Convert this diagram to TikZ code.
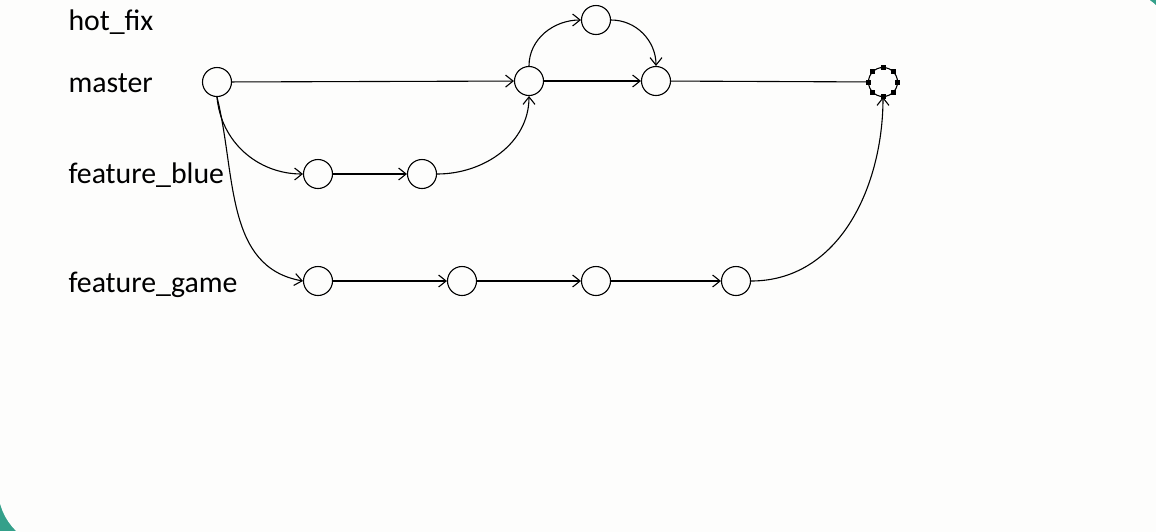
\documentclass[tikz,border=0pt]{standalone}
\usepackage{fontspec}
\setmainfont{Carlito}
\usetikzlibrary{arrows.meta,calc}
\definecolor{slideteal}{RGB}{52,160,138}
\definecolor{slidebg}{RGB}{253,253,252}
\tikzset{
    commit/.style = {draw, circle, minimum size=29pt, inner sep=0pt},
    branch/.style = {anchor=base west, inner sep=0pt,
        font=\fontsize{29.8}{32}\selectfont},
    handle/.style = {fill=black, minimum size=5pt, inner sep=0pt}
}

\begin{document}
\begin{tikzpicture}[x=1pt,y=-1pt,line width=1.1pt,
        >={Straight Barb[length=7.5pt,width=12pt]}]
    % slide frame
    \useasboundingbox (0,0) rectangle (1156,531);
    \clip (0,0) rectangle (1156,531);
    \fill[slideteal] (0,0) rectangle (1156,531);
    \fill[slidebg] (-2,-11) [rounded corners=60pt] -- (1175,-11)
        [sharp corners] -- (1175,548) [rounded corners=60pt] -- (-2,548)
        [sharp corners] -- cycle;

    % branch names
    \node [branch] (lhot)   at (68,30)  {hot\_fix};
    \node [branch] (lmast)  at (68,92)  {master};
    \node [branch] (lblue)  at (68,183) {feature\_blue};
    \node [branch] (lgame)  at (68,292) {feature\_game};

    % commits
    \node [commit] (m0) at (217,82) {};
    \node [commit] (m1) at (529,81) {};
    \node [commit] (h1) at (596,20) {};
    \node [commit] (m2) at (656,81) {};
    \node [commit] (m3) at (883,82) {};
    \node [commit] (b1) at (318,174) {};
    \node [commit] (b2) at (422,174) {};
    \node [commit] (g1) at (318,281) {};
    \node [commit] (g2) at (462,281) {};
    \node [commit] (g3) at (596,281) {};
    \node [commit] (g4) at (736,281) {};

    % selection handles on the last commit
    \foreach \a in {0,45,...,315}
        \node [handle] at ($(m3)+(\a:14.5)$) {};

    % master
    \draw[->] (m0) -- (m1);
    \draw[->] (m1) -- (m2);
    \draw (m2) -- (m3);
    % hot_fix
    \draw[->] (m1.north) to[out=90,in=180] (h1.west);
    \draw[->] (h1.east) to[out=0,in=90] (m2.north);
    % feature_blue
    \draw[->] (m0.south) to[out=-85,in=180] (b1.west);
    \draw[->] (b1) -- (b2);
    \draw[->] (b2.east) to[out=0,in=-90] (m1.south);
    % feature_game
    \draw[->] (m0.south) to[out=-76,in=170] (g1.west);
    \draw[->] (g1) -- (g2);
    \draw[->] (g2) -- (g3);
    \draw[->] (g3) -- (g4);
    \draw[->] (g4.east) to[out=0,in=-90] (m3.south);
\end{tikzpicture}
\end{document}
